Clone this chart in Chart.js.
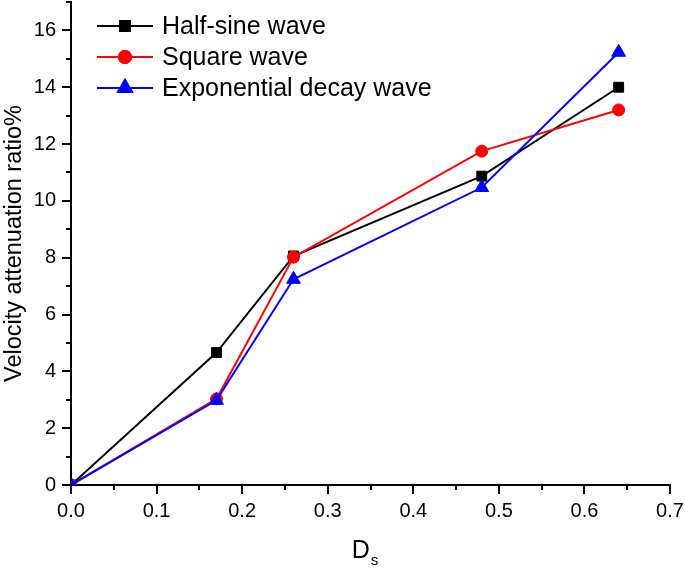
<!DOCTYPE html>
<html>
<head>
<meta charset="utf-8">
<script src="https://cdn.jsdelivr.net/npm/chart.js@4/dist/chart.umd.min.js"></script>
<style>
  html, body { margin: 0; padding: 0; background: #fff; }
  #wrap { width: 685px; height: 570px; }
</style>
</head>
<body>
<div id="wrap"><canvas id="chart" width="685" height="570"></canvas></div>
<script>
// Data
const dsValues = [0, 0.17, 0.26, 0.48, 0.64];
const halfSine = [0, 4.66, 8.06, 10.87, 14.0];
const squareWave = [0, 3.03, 8.02, 11.75, 13.2];
const expDecay = [0, 2.98, 7.24, 10.47, 15.23];
const seriesNames = ['Half-sine wave', 'Square wave', 'Exponential decay wave'];

const FONT = '"Liberation Sans", Arial, sans-serif';

function toPoints(ys) {
    return dsValues.map((x, i) => ({ x, y: ys[i] }));
}

// Tick marks: long on labelled ticks, short on the others, pointing outwards
const tickMarks = {
    id: 'tickMarks',
    afterDraw(chart) {
        const ctx = chart.ctx;
        const xs = chart.scales.x, ys = chart.scales.y;
        ctx.save();
        ctx.strokeStyle = '#000';
        ctx.lineWidth = 2;
        xs.ticks.forEach(t => {
            const px = Math.round(xs.getPixelForValue(t.value));
            const len = t.label ? 9 : 5;
            ctx.beginPath();
            ctx.moveTo(px, ys.bottom);
            ctx.lineTo(px, ys.bottom + len);
            ctx.stroke();
        });
        ys.ticks.forEach(t => {
            const py = Math.round(ys.getPixelForValue(t.value));
            const len = t.label ? 9 : 5;
            ctx.beginPath();
            ctx.moveTo(xs.left, py);
            ctx.lineTo(xs.left - len, py);
            ctx.stroke();
        });
        ctx.restore();
    }
};

// x title with subscript, legend box in the upper left of the plot
const extras = {
    id: 'extras',
    afterDraw(chart) {
        const ctx = chart.ctx;
        const area = chart.chartArea;
        ctx.save();
        ctx.fillStyle = '#000';
        ctx.textBaseline = 'alphabetic';
        ctx.font = '25px ' + FONT;
        const wD = ctx.measureText('D').width;
        ctx.font = '15px ' + FONT;
        const wS = ctx.measureText('s').width;
        const cx = (area.left + area.right) / 2 - 6;
        const x0 = cx - (wD + wS) / 2;
        ctx.font = '25px ' + FONT;
        ctx.fillText('D', x0, 558);
        ctx.font = '15px ' + FONT;
        ctx.fillText('s', x0 + wD + 1, 565);

        // legend
        chart.data.datasets.forEach((ds, i) => {
            const y = area.top + 24 + i * 31;
            const lx = area.left + 26;
            ctx.strokeStyle = ds.borderColor;
            ctx.lineWidth = 2;
            ctx.beginPath();
            ctx.moveTo(lx, y);
            ctx.lineTo(lx + 56, y);
            ctx.stroke();
            Chart.helpers.drawPoint(ctx, {
                pointStyle: ds.pointStyle,
                radius: ds.pointRadius,
                borderWidth: 1,
                rotation: 0
            }, lx + 28, y);
            ctx.fillStyle = ds.backgroundColor;
            ctx.strokeStyle = ds.borderColor;
            ctx.fill();
            ctx.stroke();
            ctx.fillStyle = '#000';
            ctx.font = '25px ' + FONT;
            ctx.textBaseline = 'middle';
            ctx.textAlign = 'left';
            ctx.fillText(ds.label, lx + 65, y + 1);
        });
        ctx.restore();
    }
};

const ctx = document.getElementById('chart').getContext('2d');
const chart = new Chart(ctx, {
    type: 'line',
    data: {
        datasets: [{
                label: seriesNames[0],
                data: toPoints(halfSine),
                borderColor: '#000000',
                backgroundColor: '#000000',
                pointStyle: 'rect',
                pointRadius: 7,
                pointBorderWidth: 1,
                borderWidth: 2,
                order: 2
            },
            {
                label: seriesNames[1],
                data: toPoints(squareWave),
                borderColor: '#ff0000',
                backgroundColor: '#ff0000',
                pointStyle: 'circle',
                pointRadius: 6,
                pointBorderWidth: 1,
                borderWidth: 2,
                order: 1
            },
            {
                label: seriesNames[2],
                data: toPoints(expDecay),
                borderColor: '#0000ff',
                backgroundColor: '#0000ff',
                pointStyle: 'triangle',
                pointRadius: 8,
                pointBorderWidth: 1,
                borderWidth: 2,
                order: 0
            }
        ]
    },
    options: {
        responsive: false,
        animation: false,
        layout: { autoPadding: false, padding: { top: 2, right: 15, left: 0, bottom: 0 } },
        plugins: {
            legend: { display: false },
            tooltip: { enabled: false }
        },
        elements: { line: { tension: 0 } },
        scales: {
            x: {
                type: 'linear',
                min: 0,
                max: 0.7,
                grid: { display: false, drawTicks: false },
                border: { display: true, color: '#000', width: 2 },
                ticks: {
                    stepSize: 0.05,
                    autoSkip: false,
                    maxRotation: 0,
                    padding: 14,
                    color: '#000',
                    font: { family: FONT, size: 20 },
                    callback: v => (Math.round(v * 100) % 10 === 0 ? v.toFixed(1) : '')
                },
                afterFit: s => {
                    s.height = 85;
                    s.paddingLeft = 0;
                    s.paddingRight = 0;
                }
            },
            y: {
                min: 0,
                max: 17,
                grid: { display: false, drawTicks: false },
                border: { display: true, color: '#000', width: 2 },
                ticks: {
                    stepSize: 1,
                    autoSkip: false,
                    padding: 15,
                    color: '#000',
                    font: { family: FONT, size: 20 },
                    callback: v => (v % 2 === 0 ? String(v) : '')
                },
                title: {
                    display: true,
                    text: 'Velocity attenuation ratio%',
                    color: '#000',
                    font: { family: FONT, size: 23.5 },
                    padding: 0
                },
                afterFit: s => {
                    s.width = 71;
                    s.paddingTop = 0;
                    s.paddingBottom = 0;
                }
            }
        }
    },
    plugins: [tickMarks, extras]
});
</script>
</body>
</html>
